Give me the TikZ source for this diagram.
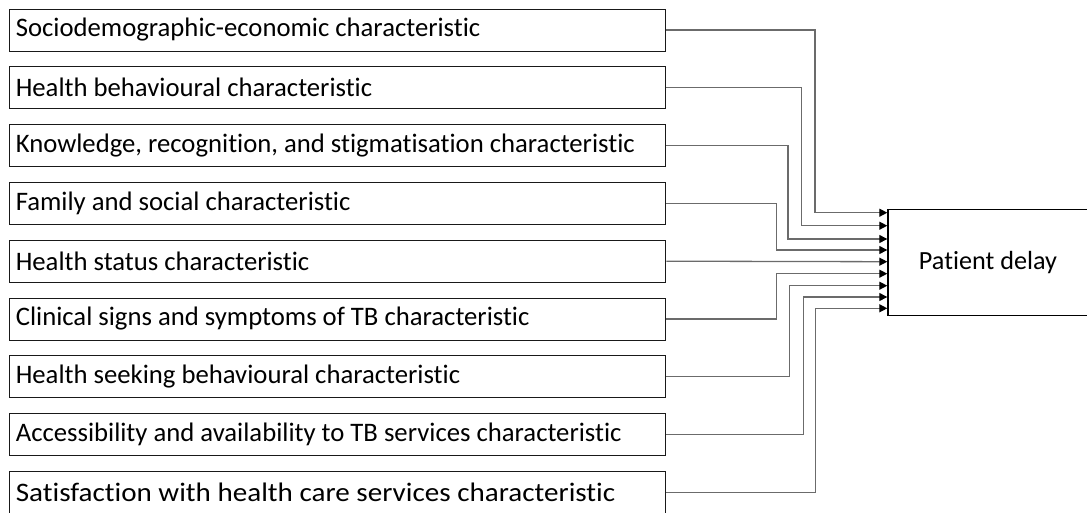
\documentclass[tikz,border=0pt]{standalone}
\usepackage{fontspec}
\setmainfont{Carlito}[Ligatures=NoCommon]
\usetikzlibrary{arrows.meta}
\begin{document}
\begin{tikzpicture}[x=1pt,y=-1pt,
  factor/.style={draw=black!90, line width=1pt, rectangle, anchor=west,
    minimum width=656pt, minimum height=42pt, inner xsep=6pt, inner ysep=0pt,
    font=\fontsize{26.7}{29}\selectfont},
  outcome/.style={draw=black, line width=1.4pt, rectangle,
    minimum width=200pt, minimum height=106pt,
    font=\fontsize{26.2}{29}\selectfont},
  link/.style={draw=black!58, line width=1.3pt,
    -{Triangle[length=8pt,width=8pt,color=black]}}]
\useasboundingbox (0,0) rectangle (1087,512);
\begin{scope}
\clip (0,0) rectangle (1087,512);

% factor boxes
\foreach \i/\t in {
  1/Sociodemographic-economic characteristic,
  2/Health behavioural characteristic,
  3/{Knowledge, recognition, and stigmatisation characteristic},
  4/Family and social characteristic,
  5/Health status characteristic,
  6/Clinical signs and symptoms of TB characteristic,
  7/Health seeking behavioural characteristic,
  8/Accessibility and availability to TB services characteristic}{
  \node[factor] (f\i) at (9.3,{30+57.8*(\i-1)}) {\makebox[644pt][l]{\t}};
}
% the last label is set a little wider
\node[factor] (f9) at (9.3,{30+57.8*8})
  {\makebox[644pt][l]{\scalebox{1.09}[1]{Satisfaction with health care services characteristic}}};

% outcome box
\node[outcome] (pd) at (988,262.5) {Patient delay};

% entry points on the outcome box
\foreach \j/\yy in {1/212.7,2/225.7,3/239,4/250,5/261.7,6/273.7,7/285.7,8/297,9/308.3}{
  \coordinate (in\j) at (pd.west |- 0,\yy);
}

% elbow connectors
\foreach \i/\xx in {1/815,2/801.5,3/788,4/776.7,6/776.7,7/789.7,8/803.7,9/815.7}{
  \draw[link] (f\i.east) -| (\xx,0 |- in\i) -- (in\i);
}
\draw[link] (f5.east) -- (in5);
\end{scope}
\end{tikzpicture}
\end{document}
